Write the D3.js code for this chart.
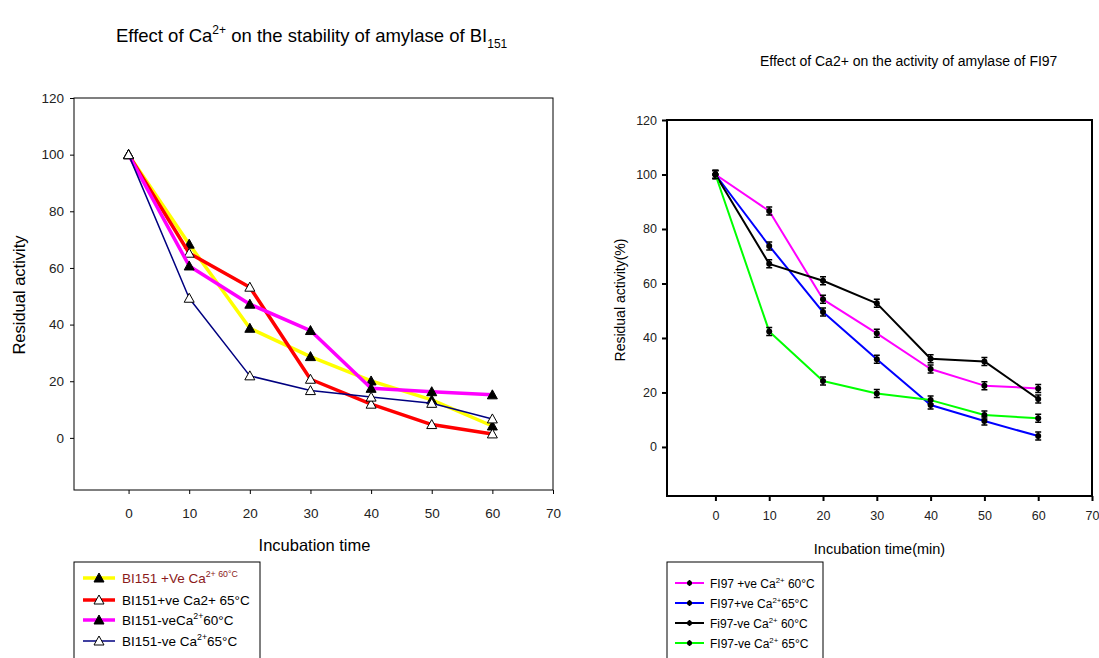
<!DOCTYPE html>
<html>
<head>
<meta charset="utf-8">
<script src="https://cdn.jsdelivr.net/npm/d3@7"></script>
<style>
  body { margin: 0; background: #fff; }
  svg { font-family: "Liberation Sans", Arial, sans-serif; }
</style>
</head>
<body>
<svg class="chart" width="1099" height="658"></svg>
<script>
// incubation times (min)
var times = [0, 10, 20, 30, 40, 50, 60];
var xTicks = [0, 10, 20, 30, 40, 50, 60, 70];
var yTicks = [0, 20, 40, 60, 80, 100, 120];

// left chart: BI151
var bi60pos = [100, 68.4, 38.7, 28.7, 20.1, 13.4, 4.2];
var bi65pos = [100, 65.2, 53.2, 20.7, 11.9, 4.7, 1.4];
var bi60neg = [100, 60.7, 47.2, 37.9, 17.5, 16.3, 15.2];
var bi65neg = [100, 49.3, 21.9, 16.7, 14.4, 12.2, 6.7];

// right chart: FI97
var fi60pos = [100, 86.6, 54.2, 41.7, 28.6, 22.5, 21.5];
var fi65pos = [100, 73.8, 49.5, 32.2, 15.4, 9.5, 4.0];
var fi60neg = [100, 67.2, 61.0, 52.7, 32.4, 31.4, 17.6];
var fi65neg = [100, 42.4, 24.2, 19.6, 17.2, 11.7, 10.5];

var svg = d3.select('svg.chart');

var triangle = function (sel, cx, cy, filled) {
  sel.append('path')
    .attr('d', 'M' + cx + ',' + (cy - 5) + 'L' + (cx + 5) + ',' + (cy + 4) + 'L' + (cx - 5) + ',' + (cy + 4) + 'Z')
    .attr('fill', filled ? '#000' : '#fff')
    .attr('stroke', '#000')
    .attr('stroke-width', 1);
};

var errDot = function (sel, cx, cy) {
  sel.append('path')
    .attr('d', 'M' + cx + ',' + (cy - 4) + 'V' + (cy + 4) + 'M' + (cx - 3) + ',' + (cy - 4) + 'H' + (cx + 3) +
      'M' + (cx - 3) + ',' + (cy + 4) + 'H' + (cx + 3))
    .attr('stroke', '#000').attr('stroke-width', 1.5).attr('fill', 'none');
  sel.append('circle').attr('cx', cx).attr('cy', cy).attr('r', 3).attr('fill', '#000');
};

// writes a text with runs of [string, 'sup'|'sub'|null, dy]
var richText = function (sel, x, y, size, runs, color) {
  var t = sel.append('text').attr('x', x).attr('y', y)
    .attr('font-size', size).attr('fill', color || '#000');
  runs.forEach(function (r) {
    var sp = t.append('tspan').text(r[0]);
    if (r[1] === 'sup') {
      sp.attr('font-size', size * 0.65).attr('dy', -size * 0.45);
    } else if (r[1] === 'sub') {
      sp.attr('font-size', size * 0.65).attr('dy', size * 0.35);
    } else if (r[2]) {
      sp.attr('dy', r[2]);
    }
  });
  return t;
};

var drawPanel = function (cfg) {
  var g = svg.append('g');
  var x = d3.scaleLinear().domain([-9, 70]).range(cfg.xr);
  var y = d3.scaleLinear().domain(cfg.yd).range(cfg.yr);

  g.append('rect')
    .attr('x', cfg.xr[0]).attr('y', cfg.yr[1])
    .attr('width', cfg.xr[1] - cfg.xr[0]).attr('height', cfg.yr[0] - cfg.yr[1])
    .attr('fill', 'none').attr('stroke', '#000').attr('stroke-width', cfg.axisW);

  var xa = g.append('g').attr('transform', 'translate(0,' + cfg.yr[0] + ')')
    .call(d3.axisBottom(x).tickValues(xTicks).tickSize(cfg.tick).tickPadding(cfg.xPad));
  var ya = g.append('g').attr('transform', 'translate(' + cfg.xr[0] + ',0)')
    .call(d3.axisLeft(y).tickValues(yTicks).tickSize(cfg.tick).tickPadding(cfg.yPad));
  [xa, ya].forEach(function (a) {
    a.select('.domain').remove();
    a.selectAll('line').attr('stroke-width', cfg.axisW);
    a.selectAll('text').attr('font-size', cfg.tickFont).attr('font-family', null).attr('fill', '#222');
  });

  var line = d3.line().x(function (d, i) { return x(times[i]); }).y(function (d) { return y(d); });

  cfg.series.forEach(function (s) {
    g.append('path').datum(s.values).attr('d', line)
      .attr('fill', 'none').attr('stroke', s.color).attr('stroke-width', s.width)
      .attr('stroke-linejoin', 'round');
    var mg = g.append('g');
    s.values.forEach(function (v, i) {
      if (s.marker === 'dot') errDot(mg, x(times[i]), y(v));
      else triangle(mg, x(times[i]), y(v), s.marker === 'filled');
    });
  });

  // axis titles
  g.append('text').attr('x', (cfg.xr[0] + cfg.xr[1]) / 2 + cfg.xTitleDx).attr('y', cfg.xTitleY)
    .attr('text-anchor', 'middle').attr('font-size', cfg.xTitleFont).text(cfg.xTitle);
  g.append('text').attr('transform', 'translate(' + cfg.yTitleX + ',' + cfg.yTitleY + ') rotate(-90)')
    .attr('text-anchor', 'middle').attr('font-size', cfg.yTitleFont).text(cfg.yTitle);

  // legend box (cut off at the bottom of the picture)
  var lg = g.append('g');
  lg.append('rect').attr('x', cfg.leg.x).attr('y', cfg.leg.y)
    .attr('width', cfg.leg.w).attr('height', 120)
    .attr('fill', '#fff').attr('stroke', '#000').attr('stroke-width', 1);
  cfg.series.forEach(function (s, i) {
    var ly = cfg.leg.rows[i];
    lg.append('line').attr('x1', cfg.leg.lx[0]).attr('x2', cfg.leg.lx[1])
      .attr('y1', ly).attr('y2', ly).attr('stroke', s.color).attr('stroke-width', s.width);
    var mx = (cfg.leg.lx[0] + cfg.leg.lx[1]) / 2;
    if (s.marker === 'dot') {
      lg.append('path').attr('d', 'M' + mx + ',' + (ly - 3) + 'V' + (ly + 3))
        .attr('stroke', '#000').attr('stroke-width', 1.5);
      lg.append('circle').attr('cx', mx).attr('cy', ly).attr('r', 2.5).attr('fill', '#000');
    } else {
      triangle(lg, mx, ly, s.marker === 'filled');
    }
    richText(lg, cfg.leg.tx, ly + 5, cfg.leg.font, s.label, s.labelColor);
  });

  return g;
};

var lf = 13.5;
var rf = 12;

drawPanel({
  xr: [74, 553], yd: [-18.4, 120], yr: [490, 98],
  axisW: 1, tick: 4, xPad: 14, yPad: 6, tickFont: 13.5,
  xTitle: 'Incubation time', xTitleDx: 1, xTitleY: 551, xTitleFont: 16.5,
  yTitle: 'Residual activity', yTitleX: 25, yTitleY: 295, yTitleFont: 16.5,
  leg: { x: 74, y: 562, w: 186, rows: [578, 600, 620, 641], lx: [83, 115], tx: 122, font: lf },
  series: [
    { values: bi60pos, color: '#ffff00', width: 3.5, marker: 'filled', labelColor: '#8b1a1a',
      label: [['BI151 +Ve Ca'], ['2+ 60°C', 'sup']] },
    { values: bi65pos, color: '#ff0000', width: 3.5, marker: 'open',
      label: [['BI151+ve Ca2+ 65°C']] },
    { values: bi60neg, color: '#ff00ff', width: 3.5, marker: 'filled',
      label: [['BI151-veCa'], ['2+', 'sup'], ['60°C', null, lf * 0.45]] },
    { values: bi65neg, color: '#000080', width: 1.5, marker: 'open',
      label: [['BI151-ve Ca'], ['2+', 'sup'], ['65°C', null, lf * 0.45]] }
  ]
});

drawPanel({
  xr: [667, 1092], yd: [-18, 120], yr: [496, 120],
  axisW: 2, tick: 5, xPad: 10, yPad: 5, tickFont: 12.5,
  xTitle: 'Incubation time(min)', xTitleDx: 0, xTitleY: 554, xTitleFont: 14.5,
  yTitle: 'Residual activity(%)', yTitleX: 625, yTitleY: 300, yTitleFont: 14,
  leg: { x: 667, y: 562, w: 156, rows: [583, 603, 623, 643], lx: [675, 704], tx: 710, font: rf },
  series: [
    { values: fi60pos, color: '#ff00ff', width: 2, marker: 'dot',
      label: [['FI97 +ve Ca'], ['2+', 'sup'], [' 60°C', null, rf * 0.45]] },
    { values: fi65pos, color: '#0000ff', width: 2, marker: 'dot',
      label: [['FI97+ve Ca'], ['2+', 'sup'], ['65°C', null, rf * 0.45]] },
    { values: fi60neg, color: '#000000', width: 2, marker: 'dot',
      label: [['Fi97-ve Ca'], ['2+', 'sup'], [' 60°C', null, rf * 0.45]] },
    { values: fi65neg, color: '#00ff00', width: 2, marker: 'dot',
      label: [['FI97-ve Ca'], ['2+', 'sup'], [' 65°C', null, rf * 0.45]] }
  ]
});

// chart titles
var tf = 18.5;
richText(svg, 116, 42, tf, [['Effect of Ca'], ['2+', 'sup'], [' on the stability of amylase of BI', null, tf * 0.45], ['151', 'sub']]);
richText(svg, 760, 66, 14, [['Effect of Ca2+ on the activity of amylase of FI97']]);
</script>
</body>
</html>
